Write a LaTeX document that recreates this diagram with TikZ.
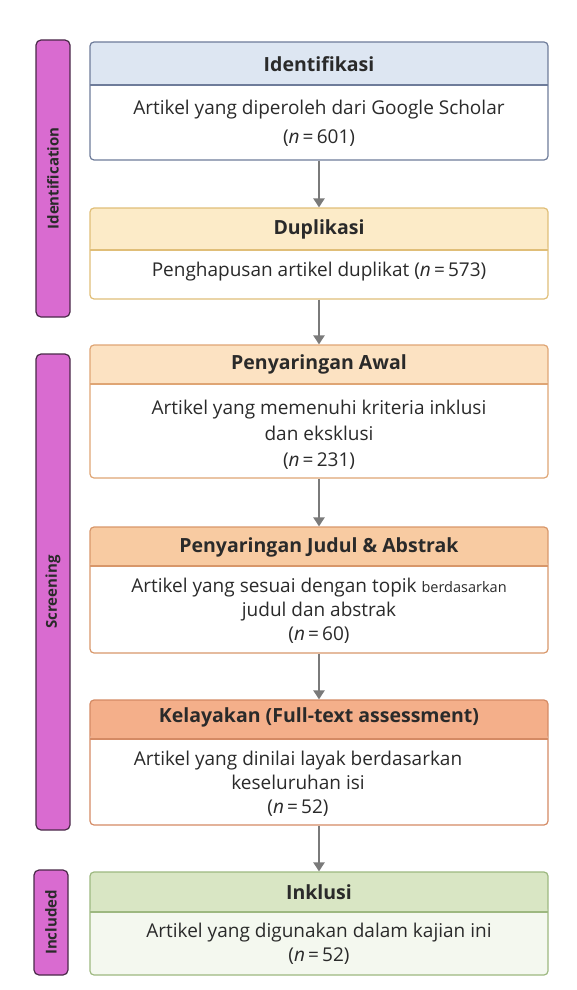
\documentclass[tikz,border=0pt]{standalone}
\usepackage{fontspec}
\IfFontExistsTF{Open Sans SemiBold}
  {\setmainfont{Open Sans}[BoldFont={Open Sans SemiBold}]}
  {\setmainfont{Open Sans}}
\usetikzlibrary{arrows.meta}
\definecolor{sidefill}{HTML}{D96BD0}
\definecolor{sidedraw}{HTML}{4A2A48}
\definecolor{arrowc}{HTML}{7A7A7A}
\definecolor{txt}{HTML}{2A2A2A}
\definecolor{h1}{HTML}{DDE6F2}\definecolor{d1}{HTML}{6E7C9A}
\definecolor{h2}{HTML}{FCEBC8}\definecolor{d2}{HTML}{E0BE78}
\definecolor{h3}{HTML}{FCE2C2}\definecolor{d3}{HTML}{DFA574}
\definecolor{h4}{HTML}{F8CBA2}\definecolor{d4}{HTML}{D8976A}
\definecolor{h5}{HTML}{F4AF8A}\definecolor{d5}{HTML}{D48A64}
\definecolor{h6}{HTML}{D9E6C4}\definecolor{d6}{HTML}{9DB880}\definecolor{b6}{HTML}{F4F8EF}
\tikzset{
  x=1pt,y=-1pt,
  stagebox/.style n args={4}{draw=#2, line width=1.2pt, rounded corners=4pt, fill=#3,
     minimum width=458pt, inner sep=0pt,
     path picture={\fill[#1] (path picture bounding box.north west) rectangle ([yshift=-#4]path picture bounding box.north east);
                   \draw[#2, line width=1.6pt] ([yshift=-#4]path picture bounding box.north west) -- ([yshift=-#4]path picture bounding box.north east);}},
  sidebar/.style={draw=sidedraw, fill=sidefill, line width=1.2pt, rounded corners=5pt, minimum width=34pt, inner sep=0pt},
  sidetxt/.style={rotate=90, font=\bfseries\fontsize{15}{17}\selectfont, text=txt},
  hdr/.style={font=\bfseries\fontsize{19.5}{22}\selectfont, text=txt},
  body/.style={font=\fontsize{19}{25}\selectfont, text=txt, align=center},
  arr/.style={draw=arrowc, line width=2.2pt, -{Triangle[length=9pt,width=11pt]}},
}
\begin{document}
\begin{tikzpicture}
\useasboundingbox (0,0) rectangle (576,990);
% side bars
\node[sidebar, minimum height=277pt] (s1) at (53,178.5) {};
\node[sidetxt] (s1t) at (s1) {Identification};
\node[sidebar, minimum height=476pt] (s2) at (53,592) {};
\node[sidetxt] (s2t) at (s2) {Screening};
\node[sidebar, minimum height=105pt] (s3) at (51,922.5) {};
\node[sidetxt] (s3t) at (s3) {Included};
% boxes
\node[stagebox={h1}{d1}{white}{43pt}, minimum height=118pt] (b1) at (319,101) {};
\node[hdr] (b1h) at (319,64) {Identifikasi};
\node[body, font=\fontsize{19}{29}\selectfont] (b1b) at (319,123) {Artikel yang diperoleh dari Google Scholar\\(\textit{n}\,=\,601)};

\node[stagebox={h2}{d2}{white}{42pt}, minimum height=91pt] (b2) at (319,253.5) {};
\node[hdr] (b2h) at (319,229) {Duplikasi};
\node[body] (b2b) at (319,272) {Penghapusan artikel duplikat (\textit{n}\,=\,573)};

\node[stagebox={h3}{d3}{white}{39pt}, minimum height=133pt] (b3) at (319,411.5) {};
\node[hdr] (b3h) at (319,364) {Penyaringan Awal};
\node[body, font=\fontsize{19}{26}\selectfont] (b3b) at (319,435) {Artikel yang memenuhi kriteria inklusi\\dan eksklusi\\(\textit{n}\,=\,231)};

\node[stagebox={h4}{d4}{white}{39pt}, minimum height=126pt] (b4) at (319,590) {};
\node[hdr] (b4h) at (319,547) {Penyaringan Judul \& Abstrak};
\node[body, font=\fontsize{19}{24}\selectfont] (b4b) at (319,611) {Artikel yang sesuai dengan topik {\fontsize{14.5}{16}\selectfont berdasarkan}\\judul dan abstrak\\(\textit{n}\,=\,60)};

\node[stagebox={h5}{d5}{white}{39pt}, minimum height=125pt] (b5) at (319,762.5) {};
\node[hdr] (b5h) at (319,717) {Kelayakan (Full-text assessment)};
\node[body, font=\fontsize{19}{24}\selectfont] (b5b) at (298,784) {Artikel yang dinilai layak berdasarkan\\keseluruhan isi\\(\textit{n}\,=\,52)};

\node[stagebox={h6}{d6}{b6}{40pt}, minimum height=103pt] (b6) at (319,923.5) {};
\node[hdr] (b6h) at (319,892) {Inklusi};
\node[body, font=\fontsize{19}{24}\selectfont] (b6b) at (319,944) {Artikel yang digunakan dalam kajian ini\\(\textit{n}\,=\,52)};
% arrows
\draw[arr] (b1) -- (b2);
\draw[arr] (b2) -- (b3);
\draw[arr] (b3) -- (b4);
\draw[arr] (b4) -- (b5);
\draw[arr] (b5) -- (b6);
\end{tikzpicture}
\end{document}
